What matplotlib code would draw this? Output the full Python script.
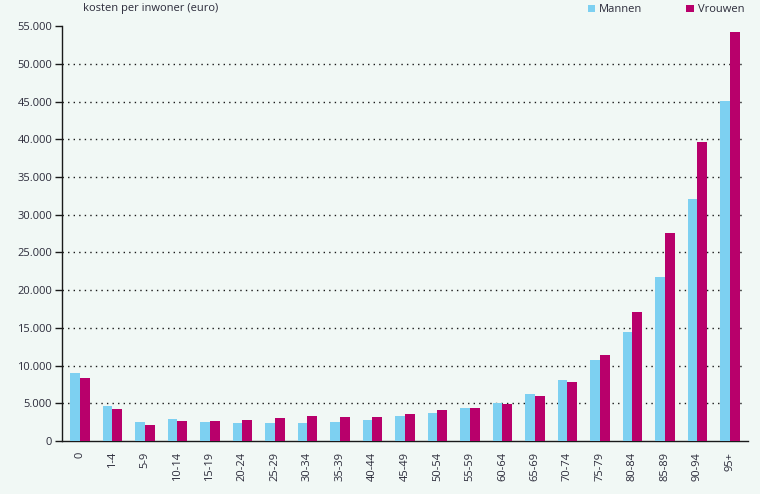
import matplotlib
matplotlib.use("Agg")
import matplotlib.pyplot as plt
import matplotlib.ticker as ticker
import numpy as np

groups = ['0', '1-4', '5-9', '10-14', '15-19', '20-24', '25-29', '30-34', '35-39', '40-44',
          '45-49', '50-54', '55-59', '60-64', '65-69', '70-74', '75-79', '80-84', '85-89',
          '90-94', '95+']
mannen  = [9000, 4630, 2510, 2910, 2510, 2380, 2380, 2380, 2510, 2780,
           3310, 3700, 4360, 5020, 6210, 8070, 10720, 14420, 21690, 32140, 45100]
vrouwen = [8330, 4230, 2120, 2650, 2650, 2780, 3040, 3310, 3170, 3170,
           3570, 4100, 4360, 4890, 5950, 7800, 11380, 17060, 27640, 39680, 54240]

BG = '#f1f8f5'
MAN = '#7dd0f1'
VROUW = '#b8006b'
TXT = '#2b2b3a'

plt.rcParams['font.family'] = ['Open Sans', 'DejaVu Sans']

fig = plt.figure(figsize=(7.6, 4.94), dpi=100)
fig.patch.set_facecolor(BG)
ax = fig.add_axes([0.0816, 0.1073, 0.9024, 0.8397])
ax.set_facecolor(BG)

x = np.arange(len(groups))
w = 0.3
ax.bar(x - w / 2, mannen, w, color=MAN, label='Mannen', zorder=3)
ax.bar(x + w / 2, vrouwen, w, color=VROUW, label='Vrouwen', zorder=3)

ax.set_xlim(-0.55, len(groups) - 1 + 0.55)
ax.set_ylim(0, 55000)
ax.set_yticks(range(0, 55001, 5000))
ax.yaxis.set_major_formatter(ticker.FuncFormatter(lambda v, p: f"{int(v):,}".replace(',', '.')))
ax.set_xticks(x)
ax.set_xticklabels(groups, rotation=90)

for v in range(5000, 50001, 5000):
    ax.axhline(v, xmax=0.995, color='#1a1a1a', linestyle=(0, (1, 3)), linewidth=1.0, zorder=1)

for s in ['top', 'right']:
    ax.spines[s].set_visible(False)
for s in ['left', 'bottom']:
    ax.spines[s].set_color('#1a1a1a')
    ax.spines[s].set_linewidth(1.0)

ax.tick_params(axis='y', length=5, width=1, colors='#1a1a1a', labelcolor=TXT, labelsize=8, pad=2)
ax.tick_params(axis='x', length=0, labelcolor=TXT, labelsize=8, pad=8)

fig.text(0.109, 0.983, 'kosten per inwoner (euro)', fontsize=8, color=TXT, ha='left', va='center')

leg = ax.legend(loc='center right', bbox_to_anchor=(744 / 760, 0.98), bbox_transform=fig.transFigure,
                ncol=2, frameon=False, fontsize=8, handlelength=0.7, handleheight=0.7,
                handletextpad=0.3, columnspacing=4.0, borderaxespad=0, borderpad=0)
for t in leg.get_texts():
    t.set_color(TXT)

fig.savefig('out.png', dpi=100, facecolor=fig.get_facecolor())
